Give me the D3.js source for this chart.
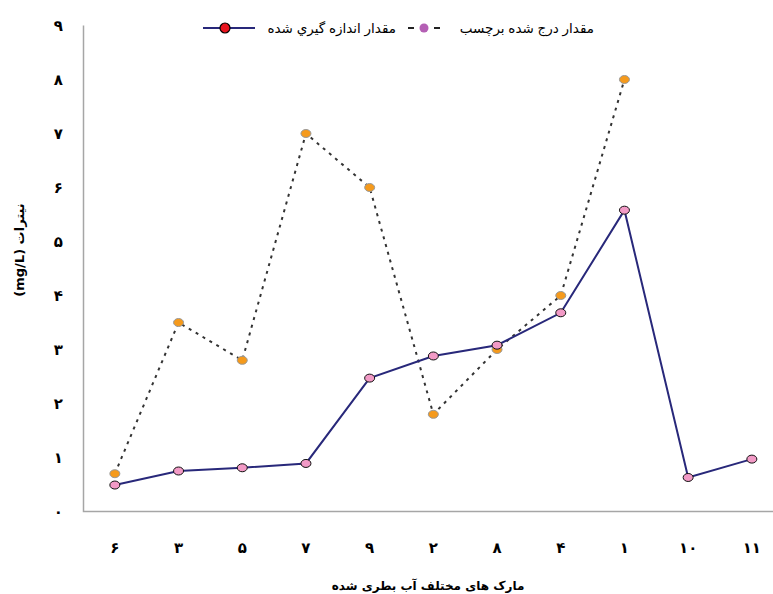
<!DOCTYPE html>
<html>
<head>
<meta charset="utf-8">
<script src="https://cdn.jsdelivr.net/npm/d3@7/dist/d3.min.js"></script>
<style>
    html, body { margin: 0; background: #fff; overflow: hidden; }
    svg { display: block; font-family: "DejaVu Sans", "Liberation Sans", sans-serif; }
</style>
</head>
<body>
<svg id="chart" width="773" height="594"></svg>
<script>
// brands on the x axis
var brands = ["۶", "۳", "۵", "۷", "۹", "۲", "۸", "۴", "۱", "۱۰", "۱۱"];
// measured nitrate (mg/L)
var measured = [0.49, 0.75, 0.81, 0.89, 2.47, 2.88, 3.08, 3.68, 5.58, 0.63, 0.97];
// nitrate printed on the label (mg/L), missing for the last two brands
var labelled = [0.7, 3.5, 2.8, 7, 6, 1.8, 3, 4, 8, null, null];
var yTicks = [0, 1, 2, 3, 4, 5, 6, 7, 8, 9];
var yTickLabels = ["۰", "۱", "۲", "۳", "۴", "۵", "۶", "۷", "۸", "۹"];
var seriesNames = ["مقدار اندازه گيري شده", "مقدار درج شده برچسب"];

var svg = d3.select("#chart");

var x = d3.scaleBand().domain(brands).range([83, 83 + 11 * 63.7]);
var y = d3.scaleLinear().domain([0, 9]).range([511.5, 25.5]);
var cx = function (d, i) { return x(brands[i]) + x.bandwidth() / 2; };

// axes
var yAxis = svg.append("g")
    .attr("transform", "translate(83,0)")
    .call(d3.axisLeft(y).tickValues(yTicks).tickSize(0).tickPadding(20)
        .tickFormat(function (d, i) { return yTickLabels[i]; }));
yAxis.select(".domain").remove();
yAxis.selectAll("text").attr("font-size", 15).attr("font-weight", "bold")
    .attr("font-family", "DejaVu Sans").attr("fill", "#000");

var xAxis = svg.append("g")
    .attr("transform", "translate(0,511.5)")
    .call(d3.axisBottom(x).tickSize(0).tickPadding(31));
xAxis.select(".domain").remove();
xAxis.selectAll("text").attr("font-size", 15).attr("font-weight", "bold")
    .attr("font-family", "DejaVu Sans").attr("fill", "#000");

// plot frame: left and bottom only
svg.append("path")
    .attr("d", "M83.5," + y(9) + "V" + y(0) + "H773")
    .attr("fill", "none")
    .attr("stroke", "#a6a6a6")
    .attr("stroke-width", 1.5);

// axis titles
svg.append("text")
    .attr("x", 428).attr("y", 590)
    .attr("text-anchor", "middle")
    .attr("font-size", 12).attr("font-weight", "bold")
    .text("مارک های مختلف آب بطری شده");

svg.append("text")
    .attr("transform", "translate(24,250) rotate(-90)")
    .attr("text-anchor", "middle")
    .attr("direction", "rtl")
    .attr("font-size", 13).attr("font-weight", "bold")
    .text("نیترات (mg/L)");

// lines
var line = d3.line()
    .defined(function (d) { return d != null; })
    .x(cx)
    .y(function (d) { return y(d); });

svg.append("path")
    .datum(labelled)
    .attr("fill", "none")
    .attr("stroke", "#333")
    .attr("stroke-width", 2)
    .attr("stroke-dasharray", "3,5")
    .attr("d", line);

svg.append("path")
    .datum(measured)
    .attr("fill", "none")
    .attr("stroke", "#28287a")
    .attr("stroke-width", 2)
    .attr("d", line);

// markers
svg.append("g").selectAll("ellipse")
    .data(labelled)
    .join("ellipse")
    .filter(function (d) { return d != null; })
    .attr("cx", cx)
    .attr("cy", function (d) { return y(d); })
    .attr("rx", 5).attr("ry", 4)
    .attr("fill", "#f59a1c")
    .attr("stroke", "#999")
    .attr("stroke-width", 1);

svg.append("g").selectAll("ellipse")
    .data(measured)
    .join("ellipse")
    .attr("cx", cx)
    .attr("cy", function (d) { return y(d); })
    .attr("rx", 5).attr("ry", 4)
    .attr("fill", "#f29ac6")
    .attr("stroke", "#111")
    .attr("stroke-width", 1);

// legend
var lg = svg.append("g").attr("font-size", 13.5).attr("font-family", "Liberation Sans, DejaVu Sans");
lg.append("text").attr("x", 594).attr("y", 33).attr("text-anchor", "start")
    .attr("direction", "rtl").text(seriesNames[1]);
lg.append("line").attr("x1", 408).attr("x2", 440).attr("y1", 28).attr("y2", 28)
    .attr("stroke", "#222").attr("stroke-width", 2).attr("stroke-dasharray", "6,20");
lg.append("circle").attr("cx", 424).attr("cy", 28).attr("r", 4.5).attr("fill", "#b45fb4");
lg.append("text").attr("x", 396).attr("y", 33).attr("text-anchor", "start")
    .attr("direction", "rtl").text(seriesNames[0]);
lg.append("line").attr("x1", 203).attr("x2", 255).attr("y1", 28).attr("y2", 28)
    .attr("stroke", "#28287a").attr("stroke-width", 2);
lg.append("circle").attr("cx", 225).attr("cy", 28).attr("r", 5).attr("fill", "#e8141e")
    .attr("stroke", "#000").attr("stroke-width", 1.2);
</script>
</body>
</html>
